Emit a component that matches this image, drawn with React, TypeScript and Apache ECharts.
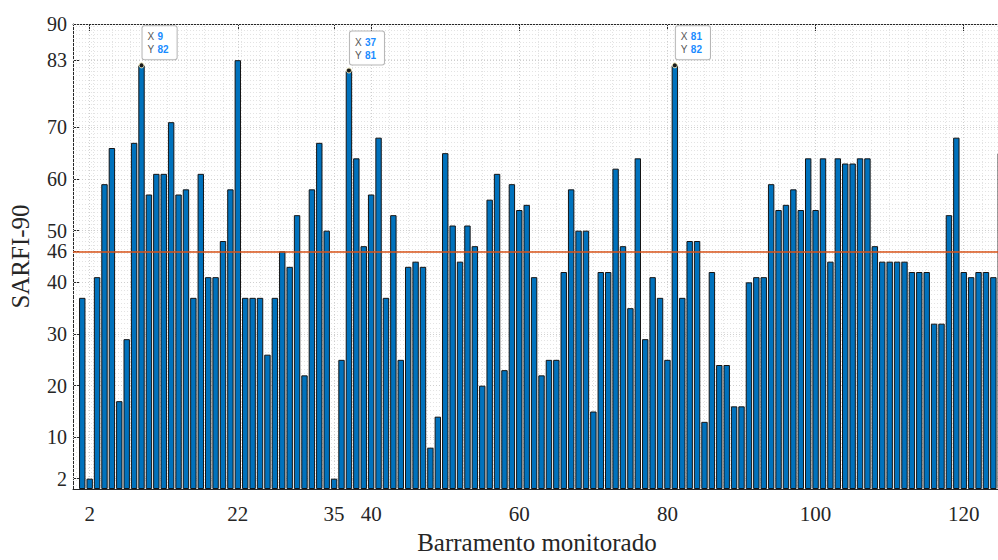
import React, { useEffect, useRef } from "react";
import * as echarts from "echarts";

// SARFI-90 per monitored bus (bus 1..125)
const sarfiValues: number[] = [
  37, 2, 41, 59, 66, 17, 29, 67, 82, 57,
  61, 61, 71, 57, 58, 37, 61, 41, 41, 48,
  58, 83, 37, 37, 37, 26, 37, 46, 43, 53,
  22, 58, 67, 50, 2, 25, 81, 64, 47, 57,
  68, 37, 53, 25, 43, 44, 43, 8, 14, 65,
  51, 44, 51, 47, 20, 56, 61, 23, 59, 54,
  55, 41, 22, 25, 25, 42, 58, 50, 50, 15,
  42, 42, 62, 47, 35, 64, 29, 41, 37, 25,
  82, 37, 48, 48, 13, 42, 24, 24, 16, 16,
  40, 41, 41, 59, 54, 55, 58, 54, 64, 54,
  64, 44, 64, 63, 63, 64, 64, 47, 44, 44,
  44, 44, 42, 42, 42, 32, 32, 53, 68, 42,
  41, 42, 42, 41, 65,
];
const busIds: number[] = sarfiValues.map((_, i) => i + 1);

const xTickValues: number[] = [2, 22, 35, 40, 60, 80, 100, 120];
const yTickValues: number[] = [2, 10, 20, 30, 40, 46, 50, 60, 70, 83, 90];
const thresholdValue = 46;
const dataTipBuses: number[] = [9, 37, 81];
const dataTipValues: number[] = [82, 81, 82];

const X_MIN = -0.25;
const X_MAX = 125;
const Y_MIN = 0;
const Y_MAX = 90;

const SERIF = "'Liberation Serif', 'Times New Roman', serif";
const SANS = "'Liberation Sans', Arial, sans-serif";
const AXIS_COLOR = "#262626";

export default function App() {
  const ref = useRef<HTMLDivElement | null>(null);

  useEffect(() => {
    if (!ref.current) return;
    const chart = echarts.init(ref.current, undefined, { renderer: "svg" });

    const minorX: number[] = [];
    for (let k = 1; k * 2.5 < X_MAX; k++) minorX.push(k * 2.5);
    const minorY: number[] = [];
    for (let k = 1; k * 0.8 < Y_MAX; k++) minorY.push(Math.round(k * 80) / 100);

    const minorStyle = { color: "#e3e3e3", width: 1, type: [1, 2] as any };
    const majorStyle = { color: "#cfcfcf", width: 1, type: [1, 2] as any };

    const gridLines: any[] = [
      ...minorX.map((v) => ({ xAxis: v, lineStyle: minorStyle })),
      ...minorY.map((v) => ({ yAxis: v, lineStyle: minorStyle })),
      ...xTickValues.map((v) => ({ xAxis: v, lineStyle: majorStyle })),
      ...yTickValues.map((v) => ({ yAxis: v, lineStyle: majorStyle })),
    ];

    const plotLeft = 72.3;
    const unitPx = 7.413;
    const chartWidth = 1010;
    const plotRight = plotLeft + (X_MAX - X_MIN) * unitPx;

    chart.setOption({
      animation: false,
      backgroundColor: "#ffffff",
      grid: {
        left: plotLeft,
        right: chartWidth - plotRight,
        top: 24,
        bottom: 63.5,
        containLabel: false,
      },
      xAxis: [
        {
          type: "value",
          min: X_MIN,
          max: X_MAX,
          position: "bottom",
          name: "Barramento monitorado",
          nameLocation: "middle",
          nameGap: 41,
          nameTextStyle: { fontFamily: SERIF, fontSize: 25, color: AXIS_COLOR },
          axisLine: { show: true, onZero: false, lineStyle: { color: AXIS_COLOR, width: 1 } },
          axisTick: {
            show: true,
            inside: true,
            length: 7,
            customValues: xTickValues,
            lineStyle: { color: AXIS_COLOR, width: 1 },
          },
          axisLabel: {
            show: true,
            customValues: xTickValues,
            fontFamily: SERIF,
            fontSize: 21,
            color: AXIS_COLOR,
            margin: 14,
          },
          splitLine: { show: false },
        },
        {
          type: "value",
          min: X_MIN,
          max: X_MAX,
          position: "top",
          axisLine: { show: true, onZero: false, lineStyle: { color: AXIS_COLOR, width: 1 } },
          axisTick: {
            show: true,
            inside: true,
            length: 7,
            customValues: xTickValues,
            lineStyle: { color: AXIS_COLOR, width: 1 },
          },
          axisLabel: { show: false },
          splitLine: { show: false },
        },
      ],
      yAxis: [
        {
          type: "value",
          min: Y_MIN,
          max: Y_MAX,
          position: "left",
          name: "SARFI-90",
          nameLocation: "middle",
          nameGap: 40,
          nameRotate: 90,
          nameTextStyle: { fontFamily: SERIF, fontSize: 25, color: AXIS_COLOR },
          axisLine: { show: true, onZero: false, lineStyle: { color: AXIS_COLOR, width: 1 } },
          axisTick: {
            show: true,
            inside: true,
            length: 7,
            customValues: yTickValues,
            lineStyle: { color: AXIS_COLOR, width: 1 },
          },
          axisLabel: {
            show: true,
            customValues: yTickValues,
            fontFamily: SERIF,
            fontSize: 20,
            lineHeight: 19,
            color: AXIS_COLOR,
            margin: 6,
          },
          splitLine: { show: false },
        },
      ],
      series: [
        {
          type: "line",
          name: "grid",
          data: [],
          xAxisIndex: 0,
          yAxisIndex: 0,
          silent: true,
          z: 1,
          markLine: {
            silent: true,
            z: 1,
            symbol: ["none", "none"],
            label: { show: false },
            emphasis: { disabled: true },
            animation: false,
            data: gridLines,
          },
        },
        {
          type: "bar",
          name: "SARFI-90",
          xAxisIndex: 0,
          yAxisIndex: 0,
          z: 2,
          barWidth: 6.4,
          data: busIds.map((id, i) => [id, sarfiValues[i]]),
          itemStyle: { color: "#0072BD", borderColor: "#151515", borderWidth: 1 },
          emphasis: { disabled: true },
          markLine: {
            silent: true,
            z: 3,
            symbol: ["none", "none"],
            label: { show: false },
            emphasis: { disabled: true },
            lineStyle: { color: "#D95319", width: 1.5, type: "solid" },
            data: [{ yAxis: thresholdValue }],
          },
          markPoint: {
            z: 10,
            symbol: "circle",
            symbolSize: 5,
            itemStyle: { color: "#1a1a1a", borderColor: "#f3edc0", borderWidth: 1 },
            emphasis: { disabled: true },
            label: {
              show: true,
              position: [4, -36],
              align: "left",
              verticalAlign: "top",
              backgroundColor: "rgba(255,255,255,0.96)",
              borderColor: "#b5b5b5",
              borderWidth: 1,
              borderRadius: 2,
              padding: [4, 8, 3, 5],
              lineHeight: 13,
              formatter: (p: any) =>
                `{k|X} {v|${p.data.coord[0]}}\n{k|Y} {v|${p.data.coord[1]}}`,
              rich: {
                k: { color: "#555555", fontSize: 10, fontFamily: SANS, lineHeight: 13 },
                v: {
                  color: "#1a8cff",
                  fontSize: 10,
                  fontWeight: "bold",
                  fontFamily: SANS,
                  lineHeight: 13,
                },
              },
            },
            data: dataTipBuses.map((b, i) => ({ coord: [b, dataTipValues[i]] })),
          },
        },
      ],
    });

    return () => {
      chart.dispose();
    };
  }, []);

  return (
    <div
      style={{
        position: "fixed",
        left: 0,
        top: 0,
        width: 998,
        height: 560,
        overflow: "hidden",
        background: "#ffffff",
      }}
    >
      <div ref={ref} style={{ width: 1010, height: 560 }} />
    </div>
  );
}
